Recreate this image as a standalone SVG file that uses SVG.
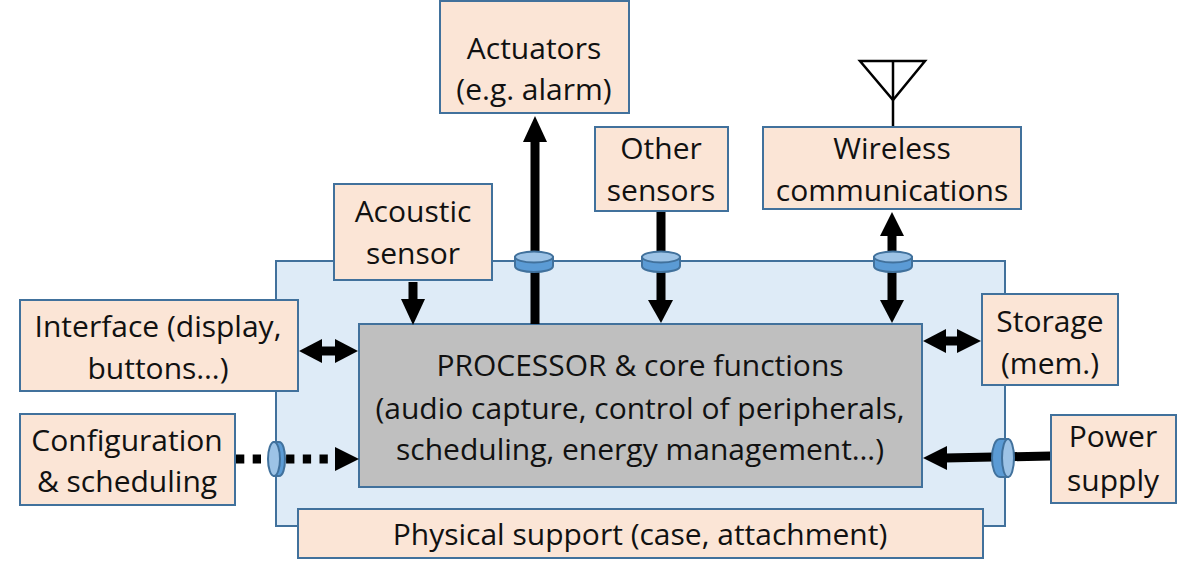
<svg xmlns="http://www.w3.org/2000/svg" width="1200" height="574" viewBox="0 0 1200 574">
<style>
text{font-family:"Open Sans","Liberation Sans",sans-serif;font-size:30px;fill:#111;text-anchor:middle}
.box rect{fill:#fbe5d6;stroke:#41719c;stroke-width:2}
.c{fill:none;stroke:#000;stroke-width:9}
.d{fill:none;stroke:#000;stroke-width:9;stroke-dasharray:8.300 8.400}
.h{fill:#000;stroke:none}
.t{fill:#5b9bd5;stroke:#41719c;stroke-width:2}
.u{fill:#9dc3e6;stroke:#41719c;stroke-width:2}
</style>
<rect width="1200" height="574" fill="#fff"/>
<g id="support-panel"><rect x="276" y="261" width="729" height="265" fill="#deebf7" stroke="#41719c" stroke-width="2"/></g>
<g id="processor"><rect x="359" y="324" width="563" height="163" fill="#bfbfbf" stroke="#41719c" stroke-width="2"/>
<text x="640" y="376">PROCESSOR &amp; core functions</text>
<text x="640" y="419">(audio capture, control of peripherals,</text>
<text x="640" y="460">scheduling, energy management…)</text></g>
<g id="connectors">
<path class="c" d="M413 282V306"/><path class="h" d="M401 299H425L413 325Z"/>
<path class="c" d="M535 324V140"/><path class="h" d="M523 142H547L535 116Z"/>
<path class="c" d="M661 211V302"/><path class="h" d="M648 300H673L661 323Z"/>
<path class="c" d="M892 234V304"/><path class="h" d="M880 300H904L892 323Z"/><path class="h" d="M880 236H904L892 212Z"/>
<path class="c" d="M318 351H342"/><path class="h" d="M322 339V363L299 351Z"/><path class="h" d="M335 339V363L358 351Z"/>
<path class="c" d="M942 341H962"/><path class="h" d="M946 329V353L923 341Z"/><path class="h" d="M957 329V353L981 341Z"/>
<path class="d" d="M236 459H328"/><path class="h" d="M335 447V471L359 459Z"/>
<path class="c" d="M1051 456L945 458"/><path class="h" d="M947 446V470L923 458Z"/>
<g stroke="#000" stroke-width="2.500" fill="none"><path d="M860 61H925L893 100Z"/><path d="M893 61V127"/></g>
</g>
<g id="port-actuators"><path class="t" d="M515 257V266C515 274 553 274 553 266V257Z"/><ellipse class="u" cx="534" cy="257" rx="19" ry="5.500"/></g>
<g id="port-sensors"><path class="t" d="M642 257V266C642 274 680 274 680 266V257Z"/><ellipse class="u" cx="661" cy="257" rx="19" ry="5.500"/></g>
<g id="port-wireless"><path class="t" d="M874 257V266C874 274 912 274 912 266V257Z"/><ellipse class="u" cx="893" cy="257" rx="19" ry="5.500"/></g>
<g id="port-config"><path class="t" d="M274 442H279C283 442 285 450 285 459C285 468 283 476 279 476H274Z"/><ellipse class="u" cx="274" cy="459" rx="6" ry="17"/></g>
<g id="port-power"><path class="t" d="M1008 439H1000C995 439 992 448 992 458C992 468 995 477 1000 477H1008Z"/><ellipse class="u" cx="1008" cy="458" rx="6" ry="19"/></g>
<g id="actuators" class="box"><rect x="440" y="1" width="189" height="112"/><text x="534" y="59">Actuators</text><text x="534" y="100">(e.g. alarm)</text></g>
<g id="other-sensors" class="box"><rect x="595" y="127" width="133" height="84"/><text x="661" y="159">Other</text><text x="661" y="201">sensors</text></g>
<g id="wireless" class="box"><rect x="763" y="127" width="258" height="82"/><text x="892" y="159">Wireless</text><text x="892" y="201">communications</text></g>
<g id="acoustic" class="box"><rect x="334" y="184" width="158" height="96"/><text x="413" y="222">Acoustic</text><text x="413" y="264">sensor</text></g>
<g id="interface" class="box"><rect x="20" y="300" width="278" height="91"/><text x="158" y="337">Interface (display,</text><text x="158" y="379">buttons…)</text></g>
<g id="storage" class="box"><rect x="982" y="294" width="136" height="91"/><text x="1050" y="332">Storage</text><text x="1050" y="374">(mem.)</text></g>
<g id="config" class="box"><rect x="20" y="414" width="215" height="91"/><text x="127" y="451">Configuration</text><text x="127" y="492">&amp; scheduling</text></g>
<g id="power" class="box"><rect x="1051" y="415" width="125" height="88"/><text x="1113" y="447">Power</text><text x="1113" y="491">supply</text></g>
<g id="physical" class="box"><rect x="298" y="509" width="685" height="49"/><text x="640" y="545">Physical support (case, attachment)</text></g>
</svg>
